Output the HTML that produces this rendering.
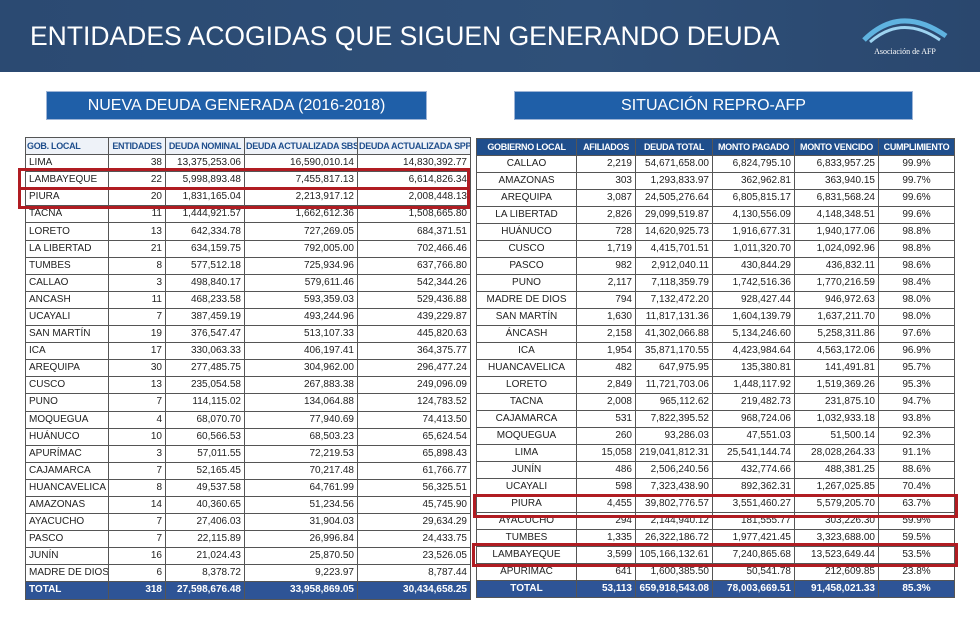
<!DOCTYPE html>
<html><head><meta charset="utf-8">
<style>
body{margin:0;width:980px;height:633px;background:#fff;position:relative;overflow:hidden;font-family:"Liberation Sans",sans-serif;}
#bar{position:absolute;left:0;top:0;width:980px;height:72px;background:linear-gradient(90deg,#2b4a72,#2f5079 60%,#2a476e);}
#title{position:absolute;left:30px;top:21px;color:#fff;font-size:26.5px;letter-spacing:0px;}
#logo{position:absolute;left:850px;top:10px;width:110px;height:50px;}
.sub{position:absolute;top:91px;height:29px;background:#1f5fa8;border:1px solid #9db4d6;color:#fff;font-size:16px;text-align:center;line-height:28px;box-sizing:border-box;}
table{position:absolute;border-collapse:collapse;font-family:"Liberation Sans",sans-serif;font-size:10px;color:#222;table-layout:fixed;}
td{border:1px solid #555;padding:0 3px;white-space:nowrap;overflow:hidden;}
#lt td{height:16.1px;line-height:16px;text-align:right;}
#lt td:first-child{text-align:left;}
#lt tr.h td{color:#1f4e8c;font-weight:bold;text-align:center;background:#eef2f8;font-size:9px;letter-spacing:-0.3px;padding:0 1px;}
#lt tr.h td:first-child{text-align:left;}
#rt td{height:16px;line-height:16px;text-align:right;}
#rt td:first-child,#rt td:last-child{text-align:center;}
#rt tr.h td{background:#1f4e8c;color:#fff;font-weight:bold;text-align:center;font-size:9px;letter-spacing:-0.3px;padding:0 1px;}
tr.t td{background:#2e5496;color:#fff;font-weight:bold;}
.rb{position:absolute;border:3px solid #b01c22;box-sizing:border-box;}
</style></head><body>
<div id="bar"></div>
<div id="title">ENTIDADES ACOGIDAS QUE SIGUEN GENERANDO DEUDA</div>
<svg id="logo" viewBox="0 0 110 50">
<path d="M14 30 Q50 -6 96 26" stroke="#5fb3e0" stroke-width="5" fill="none"/>
<path d="M20 32 Q52 4 90 30" stroke="#9dd3f0" stroke-width="3" fill="none"/>
<text x="55" y="44" fill="#fff" font-size="8" text-anchor="middle" font-family="Liberation Serif">Asociación de AFP</text>
</svg>
<div class="sub" style="left:46px;width:381px">NUEVA DEUDA GENERADA (2016-2018)</div>
<div class="sub" style="left:514px;width:399px">SITUACIÓN REPRO-AFP</div>

<table id="lt" style="left:25px;top:137px;width:445px">
<colgroup><col style="width:83px"><col style="width:57px"><col style="width:79px"><col style="width:113px"><col style="width:113px"></colgroup>
<tr class="h"><td>GOB. LOCAL</td><td>ENTIDADES</td><td>DEUDA NOMINAL</td><td>DEUDA ACTUALIZADA SBS</td><td>DEUDA ACTUALIZADA SPP</td></tr>
<tr><td>LIMA</td><td>38</td><td>13,375,253.06</td><td>16,590,010.14</td><td>14,830,392.77</td></tr>
<tr><td>LAMBAYEQUE</td><td>22</td><td>5,998,893.48</td><td>7,455,817.13</td><td>6,614,826.34</td></tr>
<tr><td>PIURA</td><td>20</td><td>1,831,165.04</td><td>2,213,917.12</td><td>2,008,448.13</td></tr>
<tr><td>TACNA</td><td>11</td><td>1,444,921.57</td><td>1,662,612.36</td><td>1,508,665.80</td></tr>
<tr><td>LORETO</td><td>13</td><td>642,334.78</td><td>727,269.05</td><td>684,371.51</td></tr>
<tr><td>LA LIBERTAD</td><td>21</td><td>634,159.75</td><td>792,005.00</td><td>702,466.46</td></tr>
<tr><td>TUMBES</td><td>8</td><td>577,512.18</td><td>725,934.96</td><td>637,766.80</td></tr>
<tr><td>CALLAO</td><td>3</td><td>498,840.17</td><td>579,611.46</td><td>542,344.26</td></tr>
<tr><td>ANCASH</td><td>11</td><td>468,233.58</td><td>593,359.03</td><td>529,436.88</td></tr>
<tr><td>UCAYALI</td><td>7</td><td>387,459.19</td><td>493,244.96</td><td>439,229.87</td></tr>
<tr><td>SAN MARTÍN</td><td>19</td><td>376,547.47</td><td>513,107.33</td><td>445,820.63</td></tr>
<tr><td>ICA</td><td>17</td><td>330,063.33</td><td>406,197.41</td><td>364,375.77</td></tr>
<tr><td>AREQUIPA</td><td>30</td><td>277,485.75</td><td>304,962.00</td><td>296,477.24</td></tr>
<tr><td>CUSCO</td><td>13</td><td>235,054.58</td><td>267,883.38</td><td>249,096.09</td></tr>
<tr><td>PUNO</td><td>7</td><td>114,115.02</td><td>134,064.88</td><td>124,783.52</td></tr>
<tr><td>MOQUEGUA</td><td>4</td><td>68,070.70</td><td>77,940.69</td><td>74,413.50</td></tr>
<tr><td>HUÁNUCO</td><td>10</td><td>60,566.53</td><td>68,503.23</td><td>65,624.54</td></tr>
<tr><td>APURÍMAC</td><td>3</td><td>57,011.55</td><td>72,219.53</td><td>65,898.43</td></tr>
<tr><td>CAJAMARCA</td><td>7</td><td>52,165.45</td><td>70,217.48</td><td>61,766.77</td></tr>
<tr><td>HUANCAVELICA</td><td>8</td><td>49,537.58</td><td>64,761.99</td><td>56,325.51</td></tr>
<tr><td>AMAZONAS</td><td>14</td><td>40,360.65</td><td>51,234.56</td><td>45,745.90</td></tr>
<tr><td>AYACUCHO</td><td>7</td><td>27,406.03</td><td>31,904.03</td><td>29,634.29</td></tr>
<tr><td>PASCO</td><td>7</td><td>22,115.89</td><td>26,996.84</td><td>24,433.75</td></tr>
<tr><td>JUNÍN</td><td>16</td><td>21,024.43</td><td>25,870.50</td><td>23,526.05</td></tr>
<tr><td>MADRE DE DIOS</td><td>6</td><td>8,378.72</td><td>9,223.97</td><td>8,787.44</td></tr>
<tr class="t"><td>TOTAL</td><td>318</td><td>27,598,676.48</td><td>33,958,869.05</td><td>30,434,658.25</td></tr>
</table>

<table id="rt" style="left:476px;top:138px;width:478px">
<colgroup><col style="width:100px"><col style="width:59px"><col style="width:77px"><col style="width:82px"><col style="width:84px"><col style="width:76px"></colgroup>
<tr class="h"><td>GOBIERNO LOCAL</td><td>AFILIADOS</td><td>DEUDA TOTAL</td><td>MONTO PAGADO</td><td>MONTO VENCIDO</td><td>CUMPLIMIENTO</td></tr>
<tr><td>CALLAO</td><td>2,219</td><td>54,671,658.00</td><td>6,824,795.10</td><td>6,833,957.25</td><td>99.9%</td></tr>
<tr><td>AMAZONAS</td><td>303</td><td>1,293,833.97</td><td>362,962.81</td><td>363,940.15</td><td>99.7%</td></tr>
<tr><td>AREQUIPA</td><td>3,087</td><td>24,505,276.64</td><td>6,805,815.17</td><td>6,831,568.24</td><td>99.6%</td></tr>
<tr><td>LA LIBERTAD</td><td>2,826</td><td>29,099,519.87</td><td>4,130,556.09</td><td>4,148,348.51</td><td>99.6%</td></tr>
<tr><td>HUÁNUCO</td><td>728</td><td>14,620,925.73</td><td>1,916,677.31</td><td>1,940,177.06</td><td>98.8%</td></tr>
<tr><td>CUSCO</td><td>1,719</td><td>4,415,701.51</td><td>1,011,320.70</td><td>1,024,092.96</td><td>98.8%</td></tr>
<tr><td>PASCO</td><td>982</td><td>2,912,040.11</td><td>430,844.29</td><td>436,832.11</td><td>98.6%</td></tr>
<tr><td>PUNO</td><td>2,117</td><td>7,118,359.79</td><td>1,742,516.36</td><td>1,770,216.59</td><td>98.4%</td></tr>
<tr><td>MADRE DE DIOS</td><td>794</td><td>7,132,472.20</td><td>928,427.44</td><td>946,972.63</td><td>98.0%</td></tr>
<tr><td>SAN MARTÍN</td><td>1,630</td><td>11,817,131.36</td><td>1,604,139.79</td><td>1,637,211.70</td><td>98.0%</td></tr>
<tr><td>ÁNCASH</td><td>2,158</td><td>41,302,066.88</td><td>5,134,246.60</td><td>5,258,311.86</td><td>97.6%</td></tr>
<tr><td>ICA</td><td>1,954</td><td>35,871,170.55</td><td>4,423,984.64</td><td>4,563,172.06</td><td>96.9%</td></tr>
<tr><td>HUANCAVELICA</td><td>482</td><td>647,975.95</td><td>135,380.81</td><td>141,491.81</td><td>95.7%</td></tr>
<tr><td>LORETO</td><td>2,849</td><td>11,721,703.06</td><td>1,448,117.92</td><td>1,519,369.26</td><td>95.3%</td></tr>
<tr><td>TACNA</td><td>2,008</td><td>965,112.62</td><td>219,482.73</td><td>231,875.10</td><td>94.7%</td></tr>
<tr><td>CAJAMARCA</td><td>531</td><td>7,822,395.52</td><td>968,724.06</td><td>1,032,933.18</td><td>93.8%</td></tr>
<tr><td>MOQUEGUA</td><td>260</td><td>93,286.03</td><td>47,551.03</td><td>51,500.14</td><td>92.3%</td></tr>
<tr><td>LIMA</td><td>15,058</td><td>219,041,812.31</td><td>25,541,144.74</td><td>28,028,264.33</td><td>91.1%</td></tr>
<tr><td>JUNÍN</td><td>486</td><td>2,506,240.56</td><td>432,774.66</td><td>488,381.25</td><td>88.6%</td></tr>
<tr><td>UCAYALI</td><td>598</td><td>7,323,438.90</td><td>892,362.31</td><td>1,267,025.85</td><td>70.4%</td></tr>
<tr><td>PIURA</td><td>4,455</td><td>39,802,776.57</td><td>3,551,460.27</td><td>5,579,205.70</td><td>63.7%</td></tr>
<tr><td>AYACUCHO</td><td>294</td><td>2,144,940.12</td><td>181,555.77</td><td>303,226.30</td><td>59.9%</td></tr>
<tr><td>TUMBES</td><td>1,335</td><td>26,322,186.72</td><td>1,977,421.45</td><td>3,323,688.00</td><td>59.5%</td></tr>
<tr><td>LAMBAYEQUE</td><td>3,599</td><td>105,166,132.61</td><td>7,240,865.68</td><td>13,523,649.44</td><td>53.5%</td></tr>
<tr><td>APURIMAC</td><td>641</td><td>1,600,385.50</td><td>50,541.78</td><td>212,609.85</td><td>23.8%</td></tr>
<tr class="t"><td>TOTAL</td><td>53,113</td><td>659,918,543.08</td><td>78,003,669.51</td><td>91,458,021.33</td><td>85.3%</td></tr>
</table>

<div class="rb" style="left:18px;top:168px;width:452px;height:22px"></div>
<div class="rb" style="left:18px;top:187px;width:452px;height:22px"></div>
<div class="rb" style="left:473px;top:494px;width:485px;height:24px"></div>
<div class="rb" style="left:472px;top:543px;width:486px;height:24px"></div>
</body></html>
